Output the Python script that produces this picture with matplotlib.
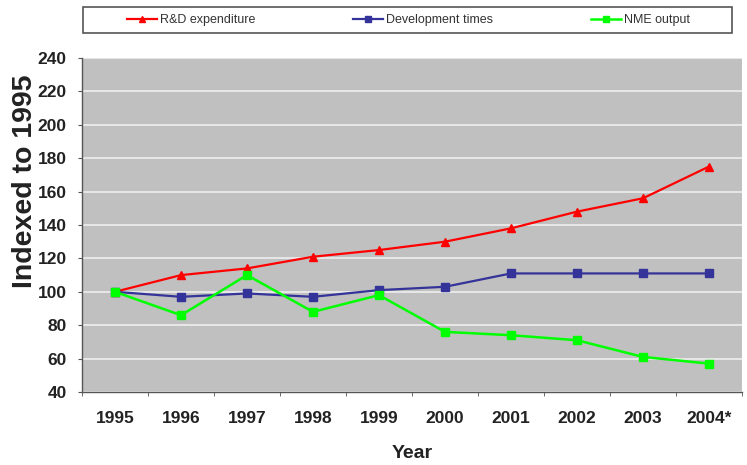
import matplotlib
matplotlib.use("Agg")
import matplotlib.pyplot as plt
from matplotlib.patches import Rectangle

years = ["1995", "1996", "1997", "1998", "1999", "2000", "2001", "2002", "2003", "2004*"]
rd_expenditure = [100, 110, 114, 121, 125, 130, 138, 148, 156, 175]
development_times = [100, 97, 99, 97, 101, 103, 111, 111, 111, 111]
nme_output = [100, 86, 110, 88, 98, 76, 74, 71, 61, 57]
y_ticks = [40, 60, 80, 100, 120, 140, 160, 180, 200, 220, 240]

plt.rcParams['font.family'] = ['Liberation Sans', 'DejaVu Sans']

W, H = 747, 465
fig = plt.figure(figsize=(W/100, H/100), dpi=100)
fig.patch.set_facecolor('white')
ax = fig.add_axes([82/W, 1-392/H, 660/W, 334/H])
ax.set_facecolor('#C0C0C0')

x = list(range(len(years)))
l1, = ax.plot(x, rd_expenditure, color='#FF0000', lw=1.6, marker='^', ms=6, label='R&D expenditure')
l2, = ax.plot(x, development_times, color='#333399', lw=1.6, marker='s', ms=6, label='Development times')
l3, = ax.plot(x, nme_output, color='#00FF00', lw=1.8, marker='s', ms=6, label='NME output')

ax.set_xlim(-0.5, len(years) - 0.5)
ax.set_ylim(40, 240)
ax.set_yticks(y_ticks)
ax.yaxis.grid(True, color='#EEEEEE', lw=1.2)
ax.set_axisbelow(True)

ax.set_xticks(x)
ax.set_xticklabels(years, fontsize=12.5, fontweight='bold', color='#222222')
ax.set_xticks([i - 0.5 for i in range(len(years) + 1)], minor=True)
ax.tick_params(axis='x', which='major', length=0, pad=14)
ax.tick_params(axis='x', which='minor', length=3, color='#555555', direction='out')
ax.tick_params(axis='y', length=3, color='#555555', pad=8, labelsize=12.5, labelcolor='#222222')
for lab in ax.get_yticklabels():
    lab.set_fontweight('bold')

for s in ['top', 'right']:
    ax.spines[s].set_visible(False)
for s in ['left', 'bottom']:
    ax.spines[s].set_color('#555555')
    ax.spines[s].set_linewidth(1.0)

ax.set_ylabel('Indexed to 1995', fontsize=20.5, fontweight='bold', color='#222222')
ax.yaxis.set_label_coords(-0.066, 0.632)
ax.set_xlabel('Year', fontsize=14, fontweight='bold', color='#222222')
ax.xaxis.set_label_coords(0.5, -(458 - 392) / 334)
ax.xaxis.label.set_va('baseline')

# legend box
fig.patches.append(Rectangle((83/W, 1-33/H), (732-83)/W, 26/H, transform=fig.transFigure,
                             facecolor='white', edgecolor='#555555', lw=1.2))
leg = fig.legend(handles=[l1, l2, l3], loc='center left', ncol=3,
                 bbox_to_anchor=(127/W, 1-20/H), fontsize=9, frameon=False,
                 handlelength=2.4, handletextpad=0.25, columnspacing=7.8,
                 borderpad=0, borderaxespad=0, markerscale=0.8)
for t in leg.get_texts():
    t.set_color('#333333')

fig.savefig('out.png', dpi=100)
